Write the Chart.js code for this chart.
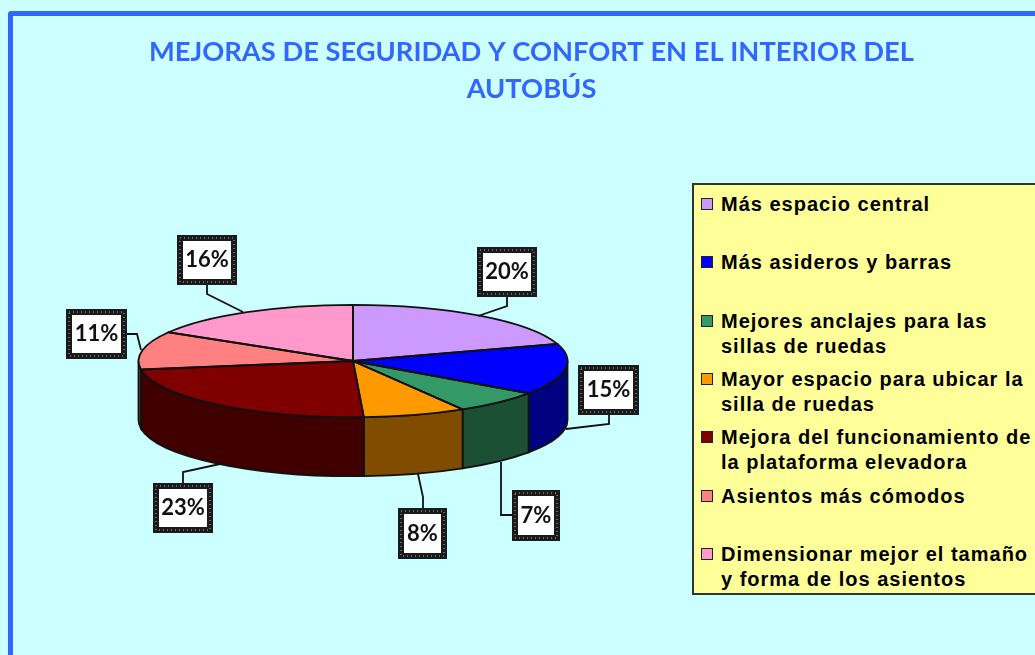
<!DOCTYPE html>
<html lang="es">
<head>
<meta charset="utf-8">
<title>Mejoras de seguridad y confort</title>
<script src="https://cdn.jsdelivr.net/npm/chart.js@4"></script>
<style>
    html, body { margin: 0; width: 1035px; height: 655px; overflow: hidden; background: #ccffff; }
    #frame { position: absolute; left: 8px; top: 11px; width: 1200px; height: 800px; border: 5px solid #3366ff; border-radius: 3px; }
    #chart { position: absolute; left: 0; top: 0; }
    #legend { position: absolute; left: 692px; top: 183px; width: 360px; height: 408px; background: #ffff99; border: 2px solid #333;
              font: bold 20px/25px "Liberation Sans", Arial, sans-serif; letter-spacing: 1px; color: #000; }
    .legend-item { position: absolute; left: 27px; white-space: nowrap; }
    .legend-swatch { position: absolute; left: -20px; top: 6px; width: 10px; height: 10px; border: 1px solid #222; }
</style>
</head>
<body>
<div id="frame"></div>
<canvas id="chart" width="1035" height="655"></canvas>
<div id="legend"></div>
<script>
// Chart data
const titleLines = ['MEJORAS DE SEGURIDAD Y CONFORT EN EL INTERIOR DEL', 'AUTOBÚS'];
const categories = [
    ['Más espacio central'],
    ['Más asideros y barras'],
    ['Mejores anclajes para las', 'sillas de ruedas'],
    ['Mayor espacio para ubicar la', 'silla de ruedas'],
    ['Mejora del funcionamiento de', 'la plataforma elevadora'],
    ['Asientos más cómodos'],
    ['Dimensionar mejor el tamaño', 'y forma de los asientos']
];
const shares = [20, 14.6, 6.7, 7.7, 23.3, 10.9, 16.4];
const topColors = ['#cc99ff', '#0000ff', '#339966', '#ff9900', '#800000', '#ff8080', '#ff99cc'];
const sideColors = ['#664d80', '#000080', '#1c5035', '#804d00', '#400000', '#804040', '#804d66'];

// Layout of the tilted pie and its annotations
const PIE_X = 353;
const PIE_Y = 361;
const PIE_RADIUS = 214.5;
const PIE_SQUASH = 0.262;
const PIE_DEPTH = 59;
const legendTops = [7, 65, 124, 182, 240, 299, 357];
const calloutBoxes = [
    [477, 247, 60, 50], [578, 365, 61, 50], [512, 490, 48, 51], [398, 508, 49, 51],
    [153, 483, 60, 50], [66, 309, 61, 50], [177, 235, 60, 50]
];
const calloutLeaders = [
    [[507, 297], [507, 306], [478, 316]],
    [[609, 415], [609, 424], [566, 429]],
    [[512, 515], [501, 515], [501, 462]],
    [[423, 508], [423, 497], [418, 474]],
    [[183, 483], [183, 472], [220, 464]],
    [[127, 334], [137, 334], [141, 350]],
    [[207, 285], [207, 294], [243, 312]]
];

// Side wall of one slice, only the part facing the viewer
function traceSide(ctx, arc) {
    const from = Math.max(arc.startAngle, 0);
    const to = Math.min(arc.endAngle, Math.PI);
    if (to <= from) return false;
    const ry = arc.outerRadius * PIE_SQUASH;
    ctx.beginPath();
    ctx.ellipse(PIE_X, PIE_Y, arc.outerRadius, ry, 0, from, to);
    ctx.ellipse(PIE_X, PIE_Y + PIE_DEPTH, arc.outerRadius, ry, 0, to, from, true);
    ctx.closePath();
    return true;
}

const tiltedPie = {
    id: 'tiltedPie',
    beforeDatasetDraw(chart) {
        const ctx = chart.ctx;
        const arcs = chart.getDatasetMeta(0).data;
        ctx.save();
        ctx.strokeStyle = '#111';
        ctx.lineWidth = 1.8;
        arcs.forEach((arc, i) => {
            if (traceSide(ctx, arc)) {
                ctx.fillStyle = sideColors[i];
                ctx.fill();
                ctx.stroke();
            }
        });
        ctx.restore();

        // The library draws the top face, squashed into an ellipse
        ctx.save();
        ctx.translate(PIE_X, PIE_Y);
        ctx.scale(1, PIE_SQUASH);
        ctx.translate(-arcs[0].x, -arcs[0].y);
    },
    afterDatasetDraw(chart) {
        const ctx = chart.ctx;
        ctx.restore();

        // Outlines are stroked after the transform so they keep an even width
        ctx.save();
        ctx.strokeStyle = '#111';
        ctx.lineWidth = 1.8;
        chart.getDatasetMeta(0).data.forEach(arc => {
            ctx.beginPath();
            ctx.moveTo(PIE_X, PIE_Y);
            ctx.ellipse(PIE_X, PIE_Y, arc.outerRadius, arc.outerRadius * PIE_SQUASH, 0, arc.startAngle, arc.endAngle);
            ctx.closePath();
            ctx.stroke();
        });
        ctx.restore();
    },
    afterDraw(chart) {
        drawCallouts(chart.ctx);
    }
};

// Percentage boxes with their dotted frame and leader line
function drawCallouts(ctx) {
    ctx.save();
    shares.forEach((share, i) => {
        const [x, y, w, h] = calloutBoxes[i];

        ctx.strokeStyle = '#111';
        ctx.lineWidth = 1.8;
        ctx.beginPath();
        calloutLeaders[i].forEach(([px, py], n) => n ? ctx.lineTo(px, py) : ctx.moveTo(px, py));
        ctx.stroke();

        ctx.fillStyle = '#fff';
        ctx.fillRect(x, y, w, h);
        ctx.strokeStyle = '#1a1a1a';
        ctx.lineWidth = 6;
        ctx.strokeRect(x + 3, y + 3, w - 6, h - 6);
        ctx.strokeStyle = '#bbb';
        ctx.lineWidth = 1;
        ctx.setLineDash([1, 3]);
        ctx.strokeRect(x + 3, y + 3, w - 6, h - 6);
        ctx.setLineDash([]);

        ctx.fillStyle = '#111';
        ctx.font = 'bold 22px Lato, sans-serif';
        ctx.textAlign = 'center';
        ctx.textBaseline = 'middle';
        ctx.fillText(Math.round(share) + '%', x + w / 2, y + h / 2);
    });
    ctx.restore();
}

// Legend box built from the same arrays as the chart
function buildLegend() {
    const legend = document.getElementById('legend');
    categories.forEach((lines, i) => {
        const item = document.createElement('div');
        item.className = 'legend-item';
        item.style.top = legendTops[i] + 'px';
        item.innerHTML = `<span class="legend-swatch" style="background:${topColors[i]}"></span>` + lines.join('<br>');
        legend.appendChild(item);
    });
}

new Chart(document.getElementById('chart'), {
    type: 'pie',
    data: {
        labels: categories.map(lines => lines.join(' ')),
        datasets: [{
            data: shares,
            backgroundColor: topColors,
            borderWidth: 0,
            radius: PIE_RADIUS,
            clip: false
        }]
    },
    options: {
        responsive: false,
        animation: false,
        layout: { padding: { left: 28 } },
        plugins: {
            legend: { display: false },
            tooltip: { enabled: false },
            title: {
                display: true,
                text: titleLines,
                color: '#3366ff',
                font: { family: 'Lato, sans-serif', size: 27.3, weight: 'bold', lineHeight: 1.36 },
                padding: { top: 34, bottom: 10 }
            }
        }
    },
    plugins: [tiltedPie]
});

buildLegend();
</script>
</body>
</html>
